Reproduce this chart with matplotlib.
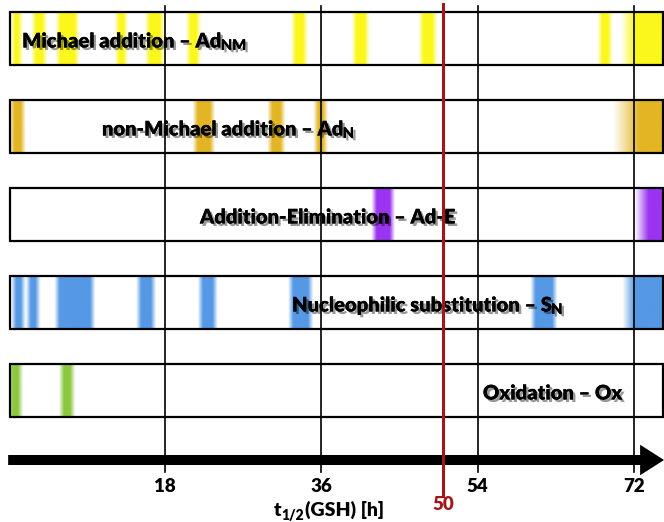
import numpy as np
import matplotlib
matplotlib.use("Agg")
import matplotlib.pyplot as plt
import matplotlib.patheffects as pe
from matplotlib.patches import Rectangle

plt.rcParams["font.family"] = ["Lato", "DejaVu Sans"]
plt.rcParams["font.weight"] = "bold"

# mechanism rows (top to bottom): main label, subscript
labels = [
    "Michael addition – Ad",
    "non-Michael addition – Ad",
    "Addition-Elimination – Ad-E",
    "Nucleophilic substitution – S",
    "Oxidation – Ox",
]
label_subs = ["NM", "N", "", "N", ""]
colors = ["#FBF71C", "#E2B524", "#9B34F0", "#5598E4", "#8DC740"]
label_x = [1.5, 10.7, 22.0, 32.6, 54.6]

# t1/2(GSH) ranges [h] of the observed compounds, per row
bands = [
    [(0.4, 1.3), (2.8, 4.1), (5.6, 7.8), (12.4, 13.4), (15.9, 17.6),
     (20.6, 21.8), (32.7, 34.1), (39.7, 41.2), (47.4, 49.0), (68.0, 69.2)],
    [(0.3, 1.6), (21.4, 23.4), (30.0, 31.5), (35.3, 36.4)],
    [(42.0, 44.1)],
    [(0.5, 1.6), (2.2, 3.3), (5.5, 9.6), (14.9, 16.6), (22.0, 23.7),
     (32.4, 34.7), (60.3, 62.8)],
    [(0.1, 1.3), (6.0, 7.3)],
]
# open-ended (> 72 h) part: fade start, solid start
tails = [(70.4, 72.0), (69.5, 72.6), (72.0, 73.6), (70.6, 72.0), None]

grid_ticks = [18, 36, 54, 72]
threshold = 50

x_lo, x_hi = -1.04, 75.47
box_l, box_r = 0.1, 75.35

fig = plt.figure(figsize=(6.64, 5.22), dpi=100)
ax = fig.add_axes([0, 0, 1, 1])
ax.set_xlim(x_lo, x_hi)
ax.set_ylim(522, 0)
ax.axis("off")

xs = np.linspace(box_l, box_r, 1600)
fade = 0.6
shadow = [pe.withSimplePatchShadow(offset=(1.8, -1.8), shadow_rgbFace="black", alpha=0.4), pe.Normal()]

for i, (lab, col) in enumerate(zip(labels, colors)):
    top = 12 + 88 * i
    h = 53
    alpha = np.zeros_like(xs)
    for s, e in bands[i]:
        a = np.clip((xs - s) / fade + 0.5, 0, 1) * np.clip((e - xs) / fade + 0.5, 0, 1)
        alpha = np.maximum(alpha, a)
    if tails[i] is not None:
        a0, a1 = tails[i]
        alpha = np.maximum(alpha, np.clip((xs - a0) / (a1 - a0), 0, 1))
    rgba = np.zeros((1, len(xs), 4))
    rgba[..., :3] = matplotlib.colors.to_rgb(col)
    rgba[..., 3] = alpha
    ax.add_patch(Rectangle((box_l, top), box_r - box_l, h, facecolor="white", edgecolor="none", zorder=1))
    ax.imshow(rgba, extent=[box_l, box_r, top + h, top], aspect="auto",
              interpolation="bilinear", zorder=2)
    t = ax.text(label_x[i], top + h / 2 + 1, lab, fontsize=14.5, fontweight="heavy",
                ha="left", va="center_baseline", zorder=4, path_effects=shadow)
    if label_subs[i]:
        ax.annotate(label_subs[i], xy=(1.0, 0.0), xycoords=t, xytext=(0.5, -1),
                    textcoords="offset points", fontsize=10.5, fontweight="heavy",
                    ha="left", va="bottom", zorder=4, path_effects=shadow)
    ax.add_patch(Rectangle((box_l, top), box_r - box_l, h, facecolor="none",
                           edgecolor="black", lw=1.6, zorder=6))

# vertical grid lines
for g in grid_ticks:
    ax.plot([g, g], [6, 472], color="black", lw=1.2, zorder=5)
    ax.text(g, 487, str(g), fontsize=13.5, fontweight="heavy", ha="center", va="center")

# time axis arrow
ax.annotate("", xy=(x_hi, 460), xytext=(-0.1, 460),
            arrowprops=dict(arrowstyle="simple,head_length=0.86,head_width=1.1,tail_width=0.36",
                            mutation_scale=20, color="black", lw=0, shrinkA=0, shrinkB=0),
            zorder=7)

# threshold line
ax.plot([threshold, threshold], [4, 496], color="#A3161A", lw=2.2, zorder=8)
ax.text(threshold, 505, str(threshold), color="#A3161A", fontsize=13.5, fontweight="heavy",
        ha="center", va="center")

xl = ax.text(30.5, 509, "t", fontsize=14, fontweight="heavy", ha="left", va="center_baseline")
xl_sub = ax.annotate("1/2", xy=(1.0, 0.0), xycoords=xl, xytext=(0.3, -2),
                     textcoords="offset points", fontsize=10, fontweight="heavy",
                     ha="left", va="bottom")
ax.annotate("(GSH) [h]", xy=(1.0, 0.0), xycoords=xl_sub, xytext=(0.3, 2),
            textcoords="offset points", fontsize=14, fontweight="heavy",
            ha="left", va="bottom")

fig.savefig("out.png", dpi=100, facecolor="white")
